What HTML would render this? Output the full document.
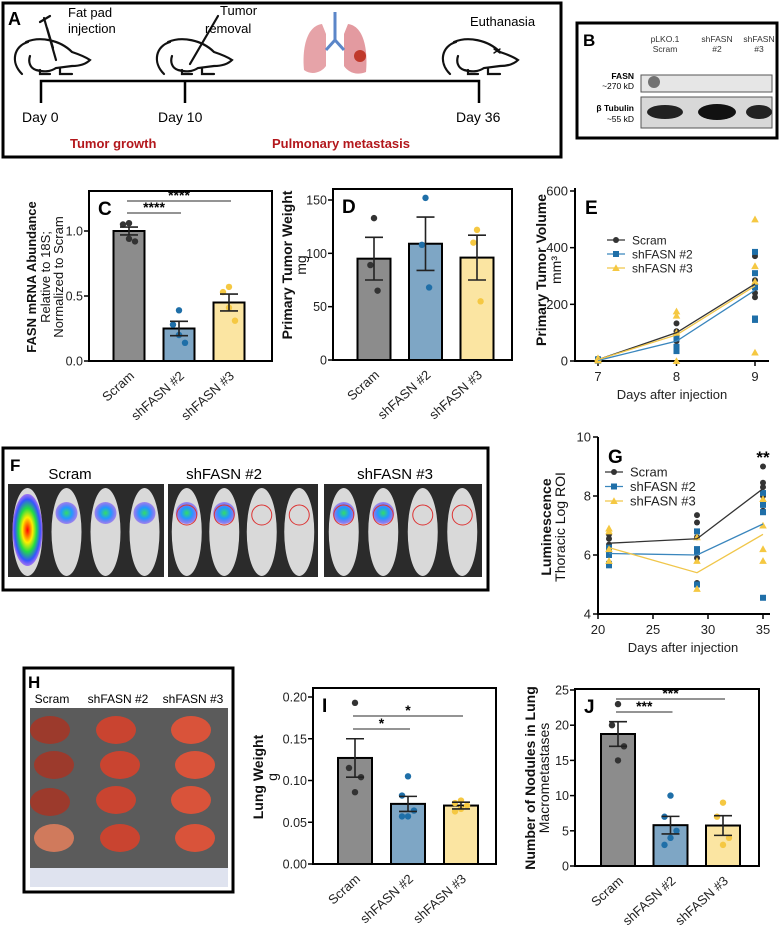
<!DOCTYPE html>
<html><head><meta charset="utf-8">
<style>
html,body{margin:0;padding:0;background:#fff;}
svg{display:block;font-family:"Liberation Sans",Arial,sans-serif;}
</style></head>
<body>
<svg id="fig" width="779" height="925" viewBox="0 0 779 925" xmlns="http://www.w3.org/2000/svg">
<defs>
<radialGradient id="hot" cx="50%" cy="50%" r="50%"><stop offset="0" stop-color="#ff0000"/><stop offset="0.35" stop-color="#ffee00"/><stop offset="0.6" stop-color="#22dd44"/><stop offset="0.85" stop-color="#3355ff"/><stop offset="1" stop-color="#7733ff" stop-opacity="0.6"/></radialGradient>
<radialGradient id="warm" cx="50%" cy="50%" r="50%"><stop offset="0" stop-color="#33dd66"/><stop offset="0.5" stop-color="#2299ff"/><stop offset="1" stop-color="#6633ff" stop-opacity="0.5"/></radialGradient>
</defs>

<!-- Panel A -->
<g>
<rect x="3" y="3" width="558" height="154" fill="#fff" stroke="#000" stroke-width="3"/>
<text x="8" y="25" font-size="18" font-weight="bold">A</text>
<g fill="none" stroke="#111" stroke-width="2.2" stroke-linecap="round">
<path d="M28 42 C14 46 10 62 22 74 M26 42 C40 36 60 40 72 52 C78 54 84 56 90 60 C86 64 80 66 72 66 L56 68 C50 72 44 72 36 70 C30 68 28 62 30 56"/>
<path d="M40 70 L40 74 L50 74 M60 68 L60 74 L72 74"/>
<path d="M44 18 L56 60 M40 22 L50 16 M47 28 L53 48"/>
</g>
<text x="68" y="17" font-size="13">Fat pad</text>
<text x="68" y="33" font-size="13">injection</text>
<g fill="none" stroke="#111" stroke-width="2.2" stroke-linecap="round">
<path d="M170 42 C156 46 152 62 164 74 M168 42 C182 36 202 40 214 52 C220 54 226 56 232 60 C228 64 222 66 214 66 L198 68 C192 72 186 72 178 70 C172 68 170 62 172 56"/>
<path d="M182 70 L182 74 L192 74 M202 68 L202 74 L214 74"/>
<path d="M218 16 L190 64"/>
</g>
<text x="220" y="15" font-size="13">Tumor</text>
<text x="205" y="33" font-size="13">removal</text>
<g>
<path d="M322 24 C306 26 302 50 304 70 C312 76 322 72 326 66 L326 34 Z" fill="#e6a3a8"/>
<path d="M348 24 C364 26 368 50 366 72 C356 76 348 72 344 66 L344 34 Z" fill="#e39aa0"/>
<path d="M335 12 L335 40 M335 40 L326 50 M335 40 L344 50" stroke="#5b86c8" stroke-width="3" fill="none"/>
<circle cx="360" cy="56" r="6" fill="#c0392b"/>
</g>
<g fill="none" stroke="#111" stroke-width="2.2" stroke-linecap="round">
<path d="M456 42 C442 46 438 62 450 74 M454 42 C468 36 488 40 500 52 C506 54 512 56 518 60 C514 64 508 66 500 66 L484 68 C478 72 472 72 464 70 C458 68 456 62 458 56"/>
<path d="M468 70 L468 74 L478 74 M488 68 L488 74 L500 74"/>
<path d="M494 49 L500 53 M500 49 L494 53" stroke-width="1.4"/>
</g>
<text x="470" y="26" font-size="13">Euthanasia</text>
<path d="M41 103 L41 81 L479 81 L479 103 M185 81 L185 103" fill="none" stroke="#000" stroke-width="2.5"/>
<text x="22" y="122" font-size="14">Day 0</text>
<text x="158" y="122" font-size="14">Day 10</text>
<text x="456" y="122" font-size="14">Day 36</text>
<text x="70" y="148" font-size="13" font-weight="bold" fill="#b3171c">Tumor growth</text>
<text x="272" y="148" font-size="13" font-weight="bold" fill="#b3171c">Pulmonary metastasis</text>
</g>

<!-- Panel B -->
<g>
<rect x="577" y="23" width="200" height="115" fill="#fff" stroke="#000" stroke-width="3"/>
<text x="583" y="46" font-size="17" font-weight="bold">B</text>
<g font-size="8.5" fill="#333" text-anchor="middle">
<text x="665" y="42">pLKO.1</text><text x="665" y="52">Scram</text>
<text x="717" y="42">shFASN</text><text x="717" y="52">#2</text>
<text x="759" y="42">shFASN</text><text x="759" y="52">#3</text>
</g>
<text x="634" y="79" font-size="8.5" font-weight="bold" text-anchor="end">FASN</text>
<text x="634" y="89" font-size="8.5" text-anchor="end">~270 kD</text>
<text x="634" y="111" font-size="8.5" font-weight="bold" text-anchor="end">β Tubulin</text>
<text x="634" y="122" font-size="8.5" text-anchor="end">~55 kD</text>
<rect x="641" y="75" width="131" height="17" fill="#e6e6e6" stroke="#555"/>
<ellipse cx="654" cy="82" rx="6" ry="6" fill="#555" opacity="0.8"/>
<rect x="641" y="97" width="131" height="31" fill="#d8d8d8" stroke="#555"/>
<ellipse cx="665" cy="112" rx="18" ry="7" fill="#222"/>
<ellipse cx="717" cy="112" rx="19" ry="8" fill="#111"/>
<ellipse cx="759" cy="112" rx="13" ry="7" fill="#222"/>
</g>

<!-- Panel F -->
<g>
<rect x="3" y="448" width="485" height="142" fill="#fff" stroke="#000" stroke-width="3"/>
<text x="10" y="471" font-size="17" font-weight="bold">F</text>
<text x="70" y="479" font-size="15" text-anchor="middle">Scram</text>
<text x="224" y="479" font-size="15" text-anchor="middle">shFASN #2</text>
<text x="395" y="479" font-size="15" text-anchor="middle">shFASN #3</text>
<g id="fimgs"></g>
</g>

<!-- Panel H -->
<g>
<rect x="24" y="668" width="209" height="224" fill="#fff" stroke="#000" stroke-width="3"/>
<text x="28" y="688" font-size="17" font-weight="bold">H</text>
<text x="52" y="703" font-size="12" text-anchor="middle">Scram</text>
<text x="118" y="703" font-size="12" text-anchor="middle">shFASN #2</text>
<text x="193" y="703" font-size="12" text-anchor="middle">shFASN #3</text>
<rect x="30" y="708" width="198" height="160" fill="#5b5b5b"/>
<rect x="30" y="868" width="198" height="19" fill="#dfe3ef"/>
<g id="lungs"></g>
</g>

<g id="charts"></g>
</svg>

<script>
var NS = "http://www.w3.org/2000/svg";
var root = document.getElementById("charts");
function el(tag, attrs, parent){ var e=document.createElementNS(NS,tag); for(var k in attrs){e.setAttribute(k,attrs[k]);} (parent||root).appendChild(e); return e; }
function txt(s, attrs, parent){ var e=el("text",attrs,parent); e.textContent=s; return e; }

/* ---------- data ---------- */
var groups = ["Scram","shFASN #2","shFASN #3"];
// Panel C
var cMeans = [1.0, 0.25, 0.45];
var cErr = [0.03, 0.055, 0.065];
var cPoints = [[1.06,1.05,0.92,0.94],[0.39,0.28,0.14,0.20],[0.57,0.53,0.31,0.41]];
var cTicks = [0, 0.5, 1.0];
var cTickLabels = ["0.0","0.5","1.0"];
// Panel D
var dMeans = [95, 109, 96];
var dErr = [20, 25, 21];
var dPoints = [[133,89,65],[152,108,68],[122,110,55]];
var dTicks = [0,50,100,150];
var dTickLabels = ["0","50","100","150"];
// Panel I
var iMeans = [0.127, 0.072, 0.070];
var iErr = [0.023, 0.009, 0.004];
var iPoints = [[0.193,0.115,0.104,0.086],[0.105,0.082,0.064,0.057,0.057],[0.076,0.073,0.070,0.066,0.063]];
var iTicks = [0,0.05,0.10,0.15,0.20];
var iTickLabels = ["0.00","0.05","0.10","0.15","0.20"];
// Panel J
var jMeans = [18.75, 5.8, 5.75];
var jErr = [1.75, 1.25, 1.4];
var jPoints = [[23,20,17,15],[10,7,5,4,3],[9,7,4,3]];
var jTicks = [0,5,10,15,20,25];
var jTickLabels = ["0","5","10","15","20","25"];
// Panel E
var eDays = [7,8,9];
var eTicks = [7,8,9];
var eYTicks = [0,200,400,600];
var eMeans = [[5,100,272],[2,70,250],[5,92,265]];
var ePoints = [
 [[8,4,2],[133,105,90,70],[370,285,265,240,225]],
 [[6,3,1],[80,50,40,35],[385,310,260,150,145]],
 [[10,5,2],[175,160,100,0],[500,335,280,30]]
];
// Panel G
var gDays = [21,29,35];
var gXTicks = [20,25,30,35];
var gYTicks = [4,6,8,10];
var gMeans = [[6.4,6.55,8.25],[6.05,6.0,7.05],[6.25,5.4,6.7]];
var gPoints = [
 [[6.7,6.55,6.35,6.2,6.1],[7.35,7.1,6.6,5.9,5.05],[9.0,8.45,8.3,8.0,7.5]],
 [[6.25,6.0,5.7,5.65],[6.8,6.2,6.1,5.0],[8.1,7.7,7.45,4.55]],
 [[6.9,6.8,6.2,5.8],[6.6,5.8,4.85],[7.9,7.0,6.2,5.8]]
];

var barFill = ["#8c8c8c","#7ea6c5","#fbe5a2"];
var dotFill = ["#333333","#1f6fa8","#f5c842"];
var lineCol = ["#333333","#3a86bd","#f0c64a"];

function barChart(c){
  var g = el("g",{});
  
  
  function ys(v){ return c.bottom - (v - c.vmin)/(c.vmax - c.vmin)*(c.bottom - c.vTop); }
  function xs(i){ return c.left + c.off + i*c.step; }
  c.means.forEach(function(m,i){
    var b = el("rect",{x:xs(i)-c.bw/2, y:ys(m), width:c.bw, height:ys(0)-ys(m), fill:barFill[i], stroke:"#000","stroke-width":2},g);
    
    
  });
  c.points.forEach(function(arr,i){
    arr.forEach(function(v,k){
      var jit = (k%3===0?0:(k%3===1?-6:6)) * (arr.length>3?1:0.6);
      var p = el("circle",{cx:xs(i)+jit, cy:ys(v), r:3.2, fill:dotFill[i]},g);
      
      
    });
  });
  c.means.forEach(function(m,i){
    var x=xs(i), a=ys(m+c.err[i]), b=ys(m-c.err[i]);
    var e = el("path",{d:"M"+x+" "+a+" L"+x+" "+b+" M"+(x-9)+" "+a+" L"+(x+9)+" "+a+" M"+(x-9)+" "+b+" L"+(x+9)+" "+b, stroke:"#222","stroke-width":1.6, fill:"none"},g);
    
    
  });
  var f = el("rect",{x:c.left, y:c.top, width:c.right-c.left, height:c.bottom-c.top, fill:"none", stroke:"#000","stroke-width":2},g);
  
  
  c.ticks.forEach(function(t,k){
    var y=ys(t);
    el("line",{x1:c.left-5,x2:c.left,y1:y,y2:y,stroke:"#000","stroke-width":1.5},g);
    var tl = txt(c.tickLabels[k],{x:c.left-6,y:y+4.5,"font-size":12.5,"text-anchor":"end",fill:"#222"},g);
    
    
  });
  groups.forEach(function(s,i){
    var x=xs(i)+6, y=c.bottom+16;
    var t = txt(s,{x:x,y:y,"font-size":13,"text-anchor":"end",transform:"rotate(-42 "+x+" "+y+")",fill:"#222"},g);
    
    
  });
  var L = txt(c.letter,{x:c.left+9,y:c.top+24,"font-size":19,"font-weight":"bold"},g);
  
  
  c.titles.forEach(function(tt,k){
    var t = txt(tt.s,{x:tt.x,y:c.titleY,"font-size":tt.fs||14,"font-weight":tt.b?"bold":"normal","text-anchor":"middle",transform:"rotate(-90 "+tt.x+" "+c.titleY+")",fill:"#111"},g);
    
    
  });
  (c.sig||[]).forEach(function(s){
    el("line",{x1:xs(s.a)-2,x2:xs(s.b)+2,y1:s.y,y2:s.y,stroke:"#555","stroke-width":1.3},g);
    var t = txt(s.t,{x:(xs(s.a)+xs(s.b))/2,y:s.y-1,"font-size":14,"font-weight":"bold","text-anchor":"middle"},g);
    
    
  });
}

barChart({name:"panel-c-fasn-mrna-chart",letter:"C",left:89,right:272,top:191,bottom:361,vmin:0,vmax:1,vTop:231,off:40,step:50,bw:31,
  means:cMeans,err:cErr,points:cPoints,ticks:cTicks,tickLabels:cTickLabels,titleY:277,
  titles:[{s:"FASN mRNA Abundance",x:36,b:1,fs:13},{s:"Relative to 18S;",x:50,fs:13},{s:"Normalized to Scram",x:63,fs:13}],
  sig:[{a:0,b:1,y:213,t:"****"},{a:0,b:2,y:201,t:"****"}]});
barChart({name:"panel-d-tumor-weight-chart",letter:"D",left:333,right:512,top:189,bottom:360,vmin:0,vmax:150,vTop:200,off:41,step:51.5,bw:33,
  means:dMeans,err:dErr,points:dPoints,ticks:dTicks,tickLabels:dTickLabels,titleY:265,
  titles:[{s:"Primary Tumor Weight",x:292,b:1},{s:"mg",x:306}]});
barChart({name:"panel-i-lung-weight-chart",letter:"I",left:313,right:496,top:688,bottom:864,vmin:0,vmax:0.2,vTop:697,off:42,step:53,bw:34,
  means:iMeans,err:iErr,points:iPoints,ticks:iTicks,tickLabels:iTickLabels,titleY:777,
  titles:[{s:"Lung Weight",x:263,b:1},{s:"g",x:277}],
  sig:[{a:0,b:1,y:729,t:"*"},{a:0,b:2,y:716,t:"*"}]});
barChart({name:"panel-j-nodules-chart",letter:"J",left:575,right:759,top:689,bottom:866,vmin:0,vmax:25,vTop:690,off:43,step:52.5,bw:34,
  means:jMeans,err:jErr,points:jPoints,ticks:jTicks,tickLabels:jTickLabels,titleY:778,
  titles:[{s:"Number of Nodules in Lung",x:535,b:1},{s:"Macrometastases",x:549}],
  sig:[{a:0,b:1,y:712,t:"***"},{a:0,b:2,y:699,t:"***"}]});

function markerAt(type,x,y,col,g,size){
  var s=size||3.2, m;
  if(type===0) m=el("circle",{cx:x,cy:y,r:s,fill:col},g);
  else if(type===1) m=el("rect",{x:x-s,y:y-s,width:2*s,height:2*s,fill:col},g);
  else m=el("path",{d:"M"+x+" "+(y-s-0.8)+" L"+(x+s+0.8)+" "+(y+s)+" L"+(x-s-0.8)+" "+(y+s)+" Z",fill:col},g);
  return m;
}

function lineChart(c){
  var g = el("g",{});
  
  
  function xs(v){ return c.xLeft + (v-c.xmin)/(c.xmax-c.xmin)*(c.xRight-c.xLeft); }
  function ys(v){ return c.bottom - (v-c.ymin)/(c.ymax-c.ymin)*(c.bottom-c.yTop); }
  var ax = el("path",{d:"M"+c.left+" "+c.top+" L"+c.left+" "+c.bottom+" L"+c.right+" "+c.bottom,fill:"none",stroke:"#000","stroke-width":2},g);
  
  
  c.yTicks.forEach(function(t){
    var y=ys(t);
    el("line",{x1:c.left-5,x2:c.left,y1:y,y2:y,stroke:"#000","stroke-width":1.5},g);
    var tl = txt(String(t),{x:c.left-7,y:y+4.5,"font-size":13,"text-anchor":"end",fill:"#222"},g);
    
    
  });
  c.xTicks.forEach(function(t){
    var x=xs(t);
    el("line",{x1:x,x2:x,y1:c.bottom,y2:c.bottom+5,stroke:"#000","stroke-width":1.5},g);
    var tl = txt(String(t),{x:x,y:c.bottom+20,"font-size":13,"text-anchor":"middle",fill:"#222"},g);
    
    
  });
  var xt = txt("Days after injection",{x:c.xTitleX,y:c.bottom+38,"font-size":13,"text-anchor":"middle",fill:"#222"},g);
  
  
  c.titles.forEach(function(tt){
    var t = txt(tt.s,{x:tt.x,y:c.titleY,"font-size":14,"font-weight":tt.b?"bold":"normal","text-anchor":"middle",transform:"rotate(-90 "+tt.x+" "+c.titleY+")",fill:"#111"},g);
    
    
  });
  c.points.forEach(function(ser,si){
    ser.forEach(function(arr,di){
      arr.forEach(function(v){
        var m = markerAt(si, xs(c.days[di]), ys(v), dotFill[si], g, 3);
        
        
      });
    });
  });
  c.means.forEach(function(ser,si){
    var d = ser.map(function(v,k){ return (k?"L":"M")+xs(c.days[k])+" "+ys(v); }).join(" ");
    var l = el("path",{d:d,fill:"none",stroke:lineCol[si],"stroke-width":1.3},g);
    
    
  });
  groups.forEach(function(s,i){
    var y = c.legY + i*c.legStep;
    var lg = el("g",{},g);
    
    
    el("line",{x1:c.legX-9,x2:c.legX+9,y1:y,y2:y,stroke:lineCol[i],"stroke-width":1.3},lg);
    markerAt(i,c.legX,y,dotFill[i],lg,3);
    txt(s,{x:c.legX+16,y:y+4.5,"font-size":c.legFont,fill:"#222"},lg);
  });
  var L = txt(c.letter,{x:c.left+10,y:c.top+26,"font-size":19,"font-weight":"bold"},g);
  
  
  if(c.star){
    var st = txt("**",{x:xs(c.days[2]),y:c.top+26,"font-size":17,"font-weight":"bold","text-anchor":"middle"},g);
    
    
  }
}

lineChart({name:"panel-e-tumor-volume-chart",letter:"E",left:575,right:769,top:188,bottom:361,xmin:7,xmax:9,xLeft:598,xRight:755,
  ymin:0,ymax:600,yTop:191,days:eDays,xTicks:eTicks,yTicks:eYTicks,means:eMeans,points:ePoints,
  xTitleX:672,titleY:270,titles:[{s:"Primary Tumor Volume",x:546,b:1},{s:"mm³",x:561}],
  legX:616,legY:240,legStep:14,legFont:12});

lineChart({name:"panel-g-luminescence-chart",letter:"G",left:598,right:770,top:437,bottom:614,xmin:20,xmax:35,xLeft:598,xRight:763,
  ymin:4,ymax:10,yTop:437,days:gDays,xTicks:gXTicks,yTicks:gYTicks,means:gMeans,points:gPoints,
  xTitleX:683,titleY:527,titles:[{s:"Luminescence",x:551,b:1},{s:"Thoracic Log ROI",x:565}],
  legX:614,legY:472,legStep:14.5,legFont:13,star:true});

/* F photo panels (illustration) */
var fg = document.getElementById("fimgs");
var fPanels = [{x:8,w:156},{x:168,w:150},{x:324,w:158}];
fPanels.forEach(function(p,pi){
  var r = el("rect",{x:p.x,y:484,width:p.w,height:93,fill:"#2b2b2b"},fg);
  
  
  for(var k=0;k<4;k++){
    var cx = p.x + p.w*(k+0.5)/4;
    el("ellipse",{cx:cx,cy:532,rx:15,ry:44,fill:"#d9d9d9"},fg);
    var hot = (pi===0)?(k===0?"url(#hot)":"url(#warm)"):((k===1||k===0)?"url(#warm)":"none");
    if(hot!=="none") el("ellipse",{cx:cx,cy:(pi===0&&k===0)?530:513,rx:(pi===0&&k===0)?15:11,ry:(pi===0&&k===0)?36:11,fill:hot},fg);
    if(pi>0) el("circle",{cx:cx,cy:515,r:10,fill:"none",stroke:"#d33","stroke-width":1},fg);
  }
});
/* H lungs */
var hg = document.getElementById("lungs");
var lx=[52,118,193], ly=[730,765,800,838];
var lungCols=["#9c3a2c","#c94430","#d9533a"];
lx.forEach(function(x,ci){
  ly.forEach(function(y,ri){
    if(ci===0&&ri===2){ y=802; }
    var e = el("ellipse",{cx:x+(ri%2?2:-2),cy:y,rx:20,ry:14,fill:ri===3&&ci===0?"#d07a5c":lungCols[ci]},hg);
    
    
  });
});
</script>
</body></html>
